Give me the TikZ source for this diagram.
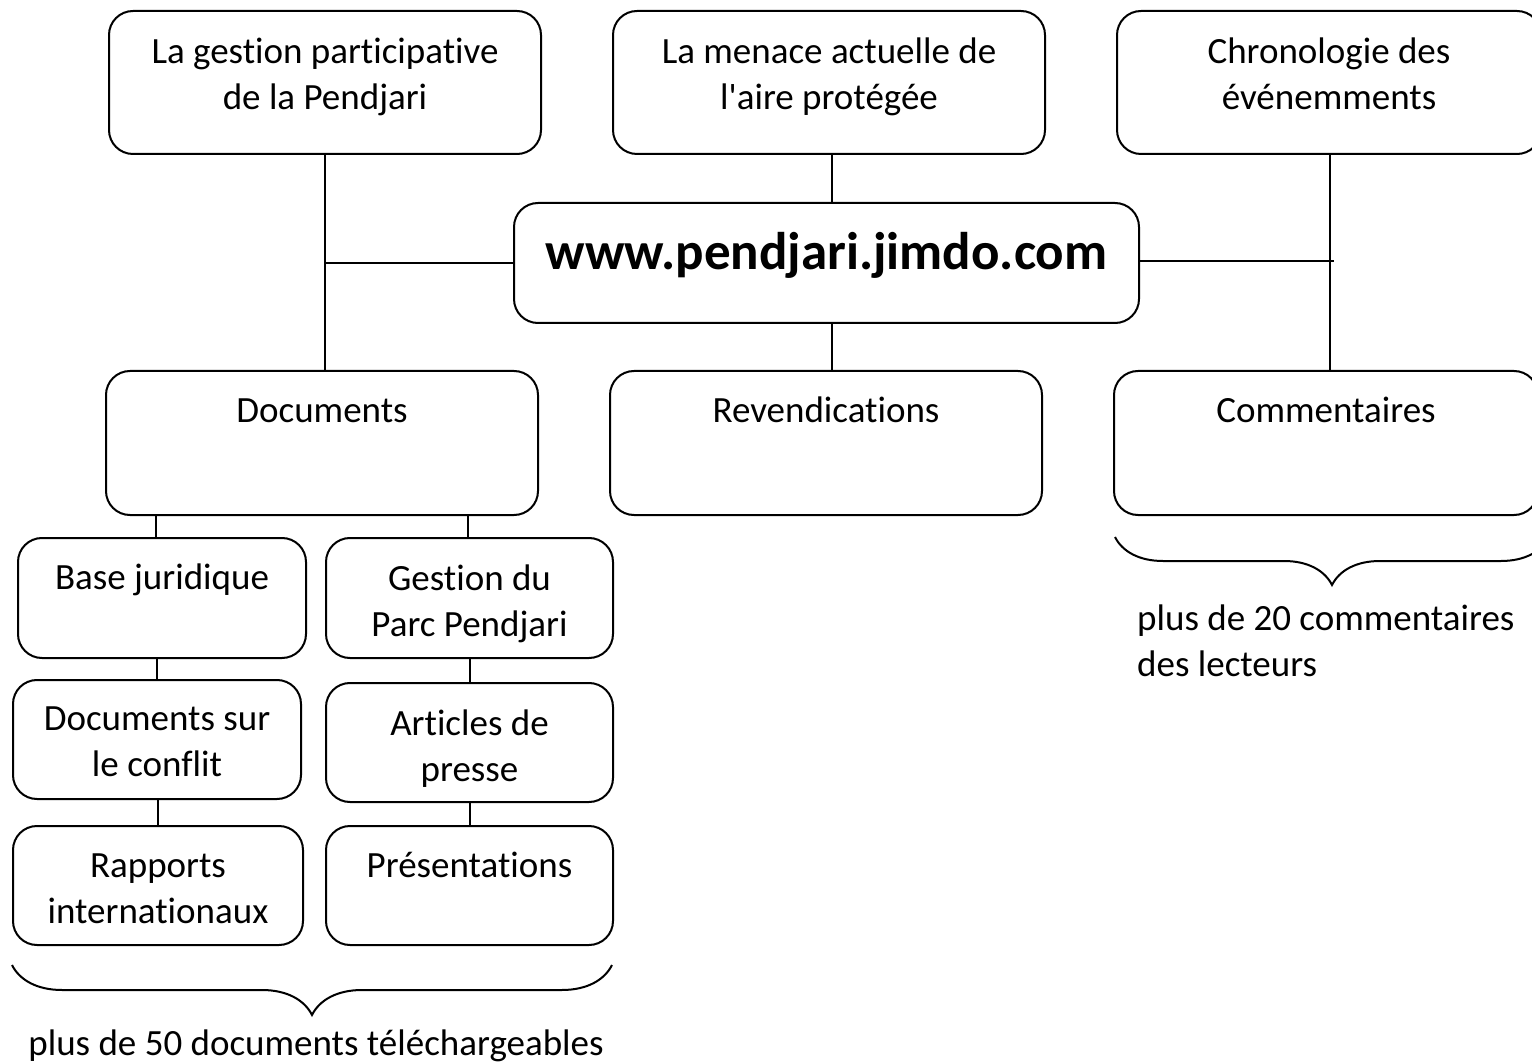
\documentclass[tikz,border=0pt]{standalone}
\usepackage{fontspec}
\setmainfont{Carlito}[Ligatures={NoCommon,TeXOff}]
\usetikzlibrary{decorations.pathreplacing}
\begin{document}
\begin{tikzpicture}[x=1pt,y=-1pt,
  box/.style={draw, line width=2pt, rounded corners=24pt, anchor=north west, inner sep=0pt},
  txt/.style={anchor=north, align=center, inner sep=0pt, font=\fontsize{37}{46}\selectfont, execute at begin node=\strut},
  two/.style={yshift=-7pt},
  link/.style={line width=2pt},
  curly/.style={line width=2pt, decorate, decoration={brace, mirror, amplitude=#1}}
]
\useasboundingbox (0,0) rectangle (1532,1064);

% top row
\node[box, minimum width=432pt, minimum height=143pt] (gest) at (108,10) {};
\node[txt, two] (tgest) at ([yshift=-20.5pt]gest.north) {La gestion participative\\de la Pendjari};
\node[box, minimum width=432pt, minimum height=143pt] (men) at (612,10) {};
\node[txt, two] (tmen) at ([yshift=-20.5pt]men.north) {La menace actuelle de\\l'aire protégée};
\node[box, minimum width=424pt, minimum height=143pt] (chr) at (1116,10) {};
\node[txt, two] (tchr) at ([yshift=-20.5pt]chr.north) {Chronologie des\\événemments};

% centre
\node[box, minimum width=625pt, minimum height=120pt] (cen) at (513,202) {};
\node[txt, font=\fontsize{53}{64}\selectfont\bfseries] (tcen) at ([yshift=-23pt]cen.north) {www.pendjari.jimdo.com};

% second row
\node[box, minimum width=432pt, minimum height=144pt] (doc) at (105,370) {};
\node[txt] (tdoc) at ([yshift=-20.5pt]doc.north) {Documents};
\node[box, minimum width=432pt, minimum height=144pt] (rev) at (609,370) {};
\node[txt] (trev) at ([yshift=-20.5pt]rev.north) {Revendications};
\node[box, minimum width=424pt, minimum height=144pt] (com) at (1113,370) {};
\node[txt] (tcom) at ([yshift=-20.5pt]com.north) {Commentaires};

% document sub-boxes
\node[box, minimum width=288pt, minimum height=120pt] (base) at (17,537) {};
\node[txt] (tbase) at ([yshift=-20.5pt]base.north) {Base juridique};
\node[box, minimum width=287pt, minimum height=120pt] (gpp) at (325,537) {};
\node[txt, two] (tgpp) at ([yshift=-20.5pt]gpp.north) {Gestion du\\Parc Pendjari};
\node[box, minimum width=288pt, minimum height=119pt] (dsc) at (12,679) {};
\node[txt, two] (tdsc) at ([yshift=-20.5pt]dsc.north) {Documents sur\\le conflit};
\node[box, minimum width=287pt, minimum height=119pt] (art) at (325,682) {};
\node[txt, two] (tart) at ([yshift=-20.5pt]art.north) {Articles de\\presse};
\node[box, minimum width=290pt, minimum height=119pt] (rap) at (12,825) {};
\node[txt, two] (trap) at ([yshift=-22pt]rap.north) {Rapports\\internationaux};
\node[box, minimum width=287pt, minimum height=119pt] (pres) at (325,825) {};
\node[txt] (tpres) at ([yshift=-20.5pt]pres.north) {Présentations};

% connectors
\draw[link] (gest.south) -- (gest.south |- doc.north);
\draw[link] (gest.south |- cen.west) -- (cen.west);
\draw[link] ([xshift=3pt]men.south) -- ([xshift=3pt]men.south |- cen.north);
\draw[link] ([xshift=5pt]cen.south) -- ([xshift=5pt]cen.south |- rev.north);
\draw[link] ([xshift=1pt]chr.south) -- ([xshift=1pt]chr.south |- com.north);
\draw[link] ([yshift=2pt]cen.east) -- ([xshift=5pt,yshift=2pt]chr.south |- cen.east);
\draw[link] ([xshift=-6pt]base.north) -- ([xshift=-6pt]base.north |- doc.south);
\draw[link] ([xshift=-2pt]gpp.north) -- ([xshift=-2pt]gpp.north |- doc.south);
\draw[link] (dsc.north) -- (dsc.north |- base.south);
\draw[link] (art.north) -- (art.north |- gpp.south);
\draw[link] (rap.north) -- (rap.north |- dsc.south);
\draw[link] (pres.north) -- (pres.north |- art.south);

% braces
\coordinate (bl) at (12,965);
\coordinate (br) at (612,965);
\draw[curly=50pt] (bl) -- (br);
\node[txt] (note1) at (316,1023) {plus de 50 documents téléchargeables};
\coordinate (cl) at (1115,537);
\coordinate (cr) at (1549,537);
\draw[curly=48pt] (cl) -- (cr);
\node[txt, anchor=north west, align=left] (note2) at (1137,605) {plus de 20 commentaires\\des lecteurs};
\end{tikzpicture}
\end{document}
